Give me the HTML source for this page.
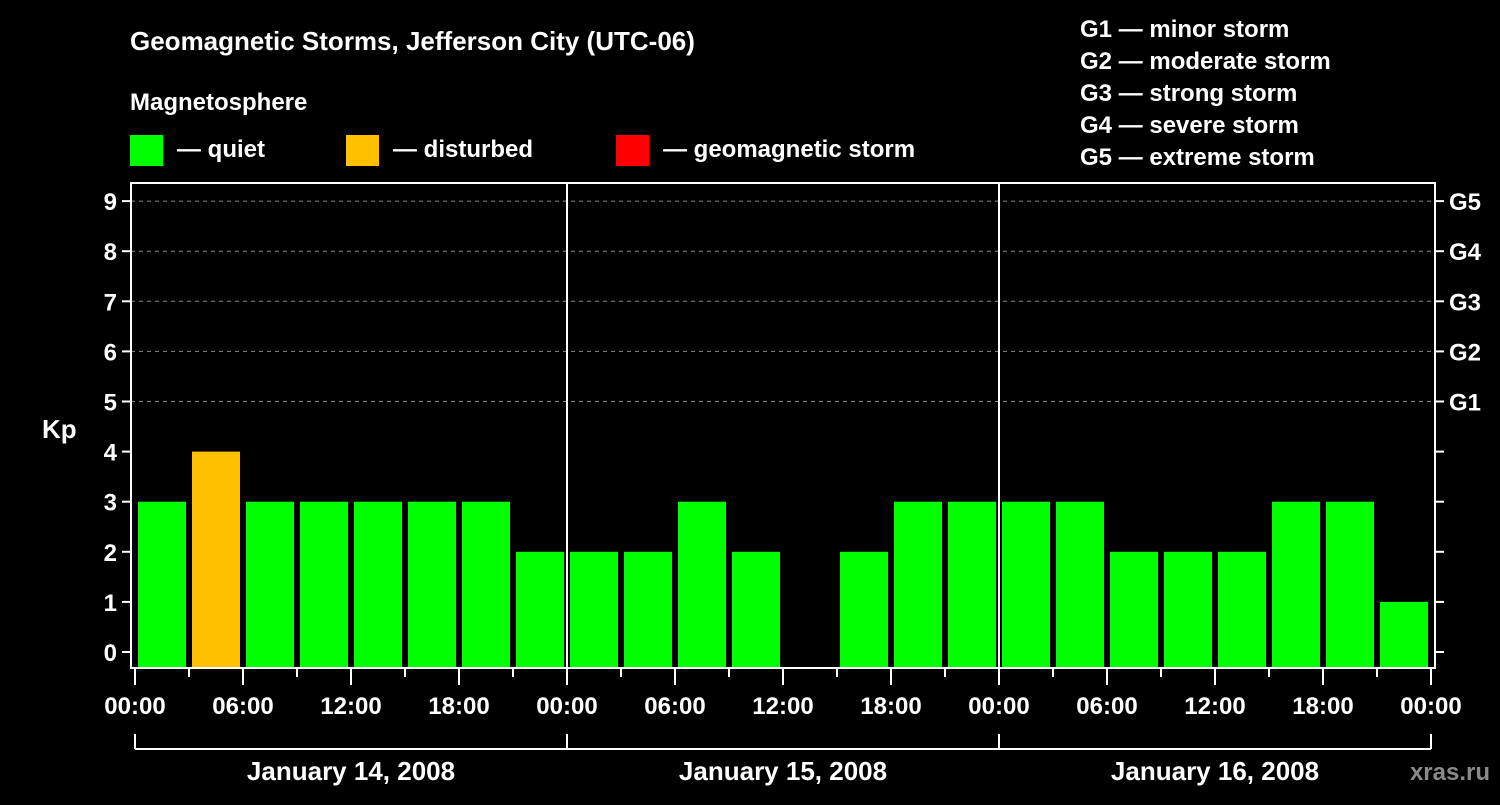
<!DOCTYPE html>
<html><head><meta charset="utf-8"><style>
html,body{margin:0;padding:0;background:#000;}
svg text{font-family:"Liberation Sans",sans-serif;font-weight:bold;fill:#fff;}
</style></head><body>
<svg id="c" width="1500" height="800" xmlns="http://www.w3.org/2000/svg">
<rect width="1500" height="800" fill="#000"/>
<text x="130" y="50" font-size="26">Geomagnetic Storms, Jefferson City (UTC-06)</text>
<text x="130" y="110" font-size="24">Magnetosphere</text>
<g><rect x="130" y="135" width="33" height="31" fill="#00ff00"/><text x="177" y="157" font-size="24">— quiet</text></g>
<g><rect x="346" y="135" width="33" height="31" fill="#ffc000"/><text x="393" y="157" font-size="24">— disturbed</text></g>
<g><rect x="616" y="135" width="33" height="31" fill="#ff0000"/><text x="663" y="157" font-size="24">— geomagnetic storm</text></g>
<g font-size="24">
<text x="1080" y="37">G1 — minor storm</text>
<text x="1080" y="69">G2 — moderate storm</text>
<text x="1080" y="101">G3 — strong storm</text>
<text x="1080" y="133">G4 — severe storm</text>
<text x="1080" y="165">G5 — extreme storm</text>
</g>
<text x="42" y="438" font-size="26">Kp</text>
<text x="1490" y="780" font-size="24" text-anchor="end" fill="#888" style="fill:#8a8a8a">xras.ru</text>
<g id="grid"></g><g id="bars"></g><g id="axes"></g>
</svg>
<script>
const kpValues=[3,4,3,3,3,3,3,2, 2,2,3,2,0,2,3,3, 3,3,2,2,2,3,3,1];
const dayLabels=["January 14, 2008","January 15, 2008","January 16, 2008"];
const yTicks=[0,1,2,3,4,5,6,7,8,9];
const gLabels=["G1","G2","G3","G4","G5"];
const xTickLabels=["00:00","06:00","12:00","18:00"];
const NS="http://www.w3.org/2000/svg";
const L=131,R=1435,T=183,B=668,X0=135,DAY=432;
const y=v=>652-v*50.1;
const x=h=>X0+h*DAY/24;
function mk(t,a,p){const e=document.createElementNS(NS,t);for(const k in a)e.setAttribute(k,a[k]);(p||document.getElementById('axes')).appendChild(e);return e;}
const grid=document.getElementById('grid'),bars=document.getElementById('bars');
yTicks.forEach(v=>{
 if(v>=5){const g=mk('line',{x1:L,x2:R,y1:y(v),y2:y(v),stroke:'#888','stroke-dasharray':'4,4','stroke-width':1},grid);}
 mk('line',{x1:L-9,x2:L,y1:y(v),y2:y(v),stroke:'#fff','stroke-width':2});
 mk('line',{x1:R,x2:R+9,y1:y(v),y2:y(v),stroke:'#fff','stroke-width':2});
 const t=mk('text',{x:L-14,y:y(v)+9,'font-size':24,'text-anchor':'end'});t.textContent=v;
 
});
gLabels.forEach((g,i)=>{const t=mk('text',{x:R+14,y:y(5+i)+9,'font-size':24});t.textContent=g;
 });
kpValues.forEach((v,i)=>{
 if(v<=0)return;
 const c=v>=5?'#ff0000':(v>=4?'#ffc000':'#00ff00');
 const r=mk('rect',{x:x(i*3)+3,y:y(v),width:48,height:B-y(v),fill:c},bars);
 
});
mk('rect',{x:L,y:T,width:R-L,height:B-T,fill:'none',stroke:'#fff','stroke-width':2});
for(let d=1;d<3;d++)mk('line',{x1:x(d*24),x2:x(d*24),y1:T,y2:B,stroke:'#fff','stroke-width':2});
for(let h=0;h<=72;h+=3){
 const big=h%6===0;
 mk('line',{x1:x(h),x2:x(h),y1:B,y2:B+(big?17:9),stroke:'#fff','stroke-width':2});
 if(big){const t=mk('text',{x:x(h),y:B+46,'font-size':24,'text-anchor':'middle'});t.textContent=xTickLabels[(h%24)/6];
 }
}
mk('line',{x1:x(0),x2:x(72),y1:749,y2:749,stroke:'#fff','stroke-width':2});
for(let d=0;d<=3;d++)mk('line',{x1:x(d*24),x2:x(d*24),y1:734,y2:749,stroke:'#fff','stroke-width':2});
dayLabels.forEach((s,d)=>{const t=mk('text',{x:x(d*24+12),y:780,'font-size':26,'text-anchor':'middle'});t.textContent=s;
 });
</script>
</body></html>
